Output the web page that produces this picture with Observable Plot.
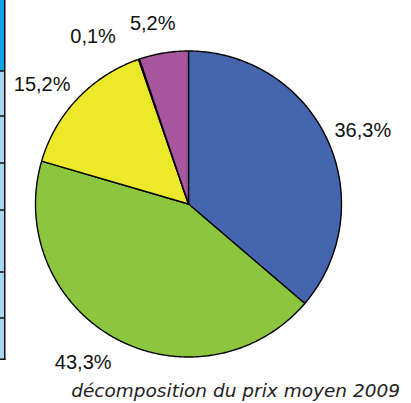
<!DOCTYPE html>
<html>
<head>
<meta charset="utf-8">
<script src="https://cdn.jsdelivr.net/npm/d3@7"></script>
<script src="https://cdn.jsdelivr.net/npm/@observablehq/plot@0.6"></script>
<style>
  html, body { margin: 0; padding: 0; background: #fff; }
  #wrap { position: relative; width: 411px; height: 403px; overflow: hidden; }
  #chart { position: absolute; left: 0; top: 0; }
  #caption { position: absolute; right: 11px; top: 380px; font: italic 18.5px "DejaVu Sans", Verdana, sans-serif; color: #222; white-space: nowrap; }
  #strip { position: absolute; left: 0; top: 0; }
</style>
</head>
<body>
<div id="wrap">
  <div id="chart"></div>
  <svg id="strip" width="8" height="403"></svg>
  <div id="caption">décomposition du prix moyen 2009</div>
</div>
<script>
// ---- data ----
const categories = ["poste 1", "poste 2", "poste 3", "poste 4", "poste 5"];
const shares = [36.3, 43.3, 15.2, 0.1, 5.2];
const labels = ["36,3%", "43,3%", "15,2%", "0,1%", "5,2%"];
const colors = ["#4565ae", "#8cc63f", "#ece82a", "#e8412c", "#a8579f"];

// ---- pie geometry (clockwise from 12 o'clock) ----
const total = d3.sum(shares);
let cum = 0;
const slices = shares.map((v, i) => {
  const a0 = cum / total * 2 * Math.PI;
  cum += v;
  const a1 = cum / total * 2 * Math.PI;
  return {cat: categories[i], label: labels[i], a0, a1, mid: (a0 + a1) / 2};
});
const points = [];
for (const s of slices) {
  points.push({cat: s.cat, x: 0, y: 0});
  const n = Math.max(2, Math.ceil((s.a1 - s.a0) / (Math.PI / 360)));
  for (let k = 0; k <= n; k++) {
    const a = s.a0 + (s.a1 - s.a0) * k / n;
    points.push({cat: s.cat, x: Math.sin(a), y: Math.cos(a)});
  }
  points.push({cat: s.cat, x: 0, y: 0});
}

// label placement: outside at radius R, with per-label nudges (pixels)
const R = 1.24;
const nudges = [[2, 6], [-15, -8], [-9, 11], [-34, 12], [-5, 7]];
const labelMarks = slices.map((s, i) => Plot.text([s], {
  x: d => R * Math.sin(d.mid),
  y: d => R * Math.cos(d.mid),
  text: "label",
  dx: nudges[i][0],
  dy: nudges[i][1],
  fill: "#111",
  fontSize: 20
}));

const chart = Plot.plot({
  width: 411,
  height: 370,
  marginLeft: 35,
  marginRight: 70,
  marginTop: 50.5,
  marginBottom: 13.5,
  x: {domain: [-1, 1], axis: null},
  y: {domain: [-1, 1], axis: null},
  color: {domain: categories, range: colors},
  style: {fontFamily: "'Liberation Sans', Arial, sans-serif", background: "transparent", overflow: "visible"},
  marks: [
    Plot.line(points, {x: "x", y: "y", z: "cat", fill: "cat", stroke: "#000", strokeWidth: 1.4, strokeLinejoin: "round", curve: "linear"}),
    ...labelMarks
  ]
});
document.getElementById("chart").appendChild(chart);

// ---- decorative cropped table edge at the far left ----
const rowEdges = [0, 71, 116, 163, 210, 272, 318, 359];
const strip = d3.select("#strip");
rowEdges.slice(0, -1).forEach((y0, i) => {
  strip.append("rect").attr("x", 0).attr("y", y0).attr("width", 4.5).attr("height", rowEdges[i + 1] - y0)
    .attr("fill", i === 0 ? "#12a3e6" : "#a6d6f2");
  if (i > 0) strip.append("rect").attr("x", 0).attr("y", y0 - 0.75).attr("width", 5).attr("height", 1.5).attr("fill", "#111");
});
strip.append("rect").attr("x", 4).attr("y", 0).attr("width", 1.5).attr("height", 360).attr("fill", "#111");
strip.append("rect").attr("x", 0).attr("y", 358.5).attr("width", 5.5).attr("height", 1.5).attr("fill", "#111");
</script>
</body>
</html>
